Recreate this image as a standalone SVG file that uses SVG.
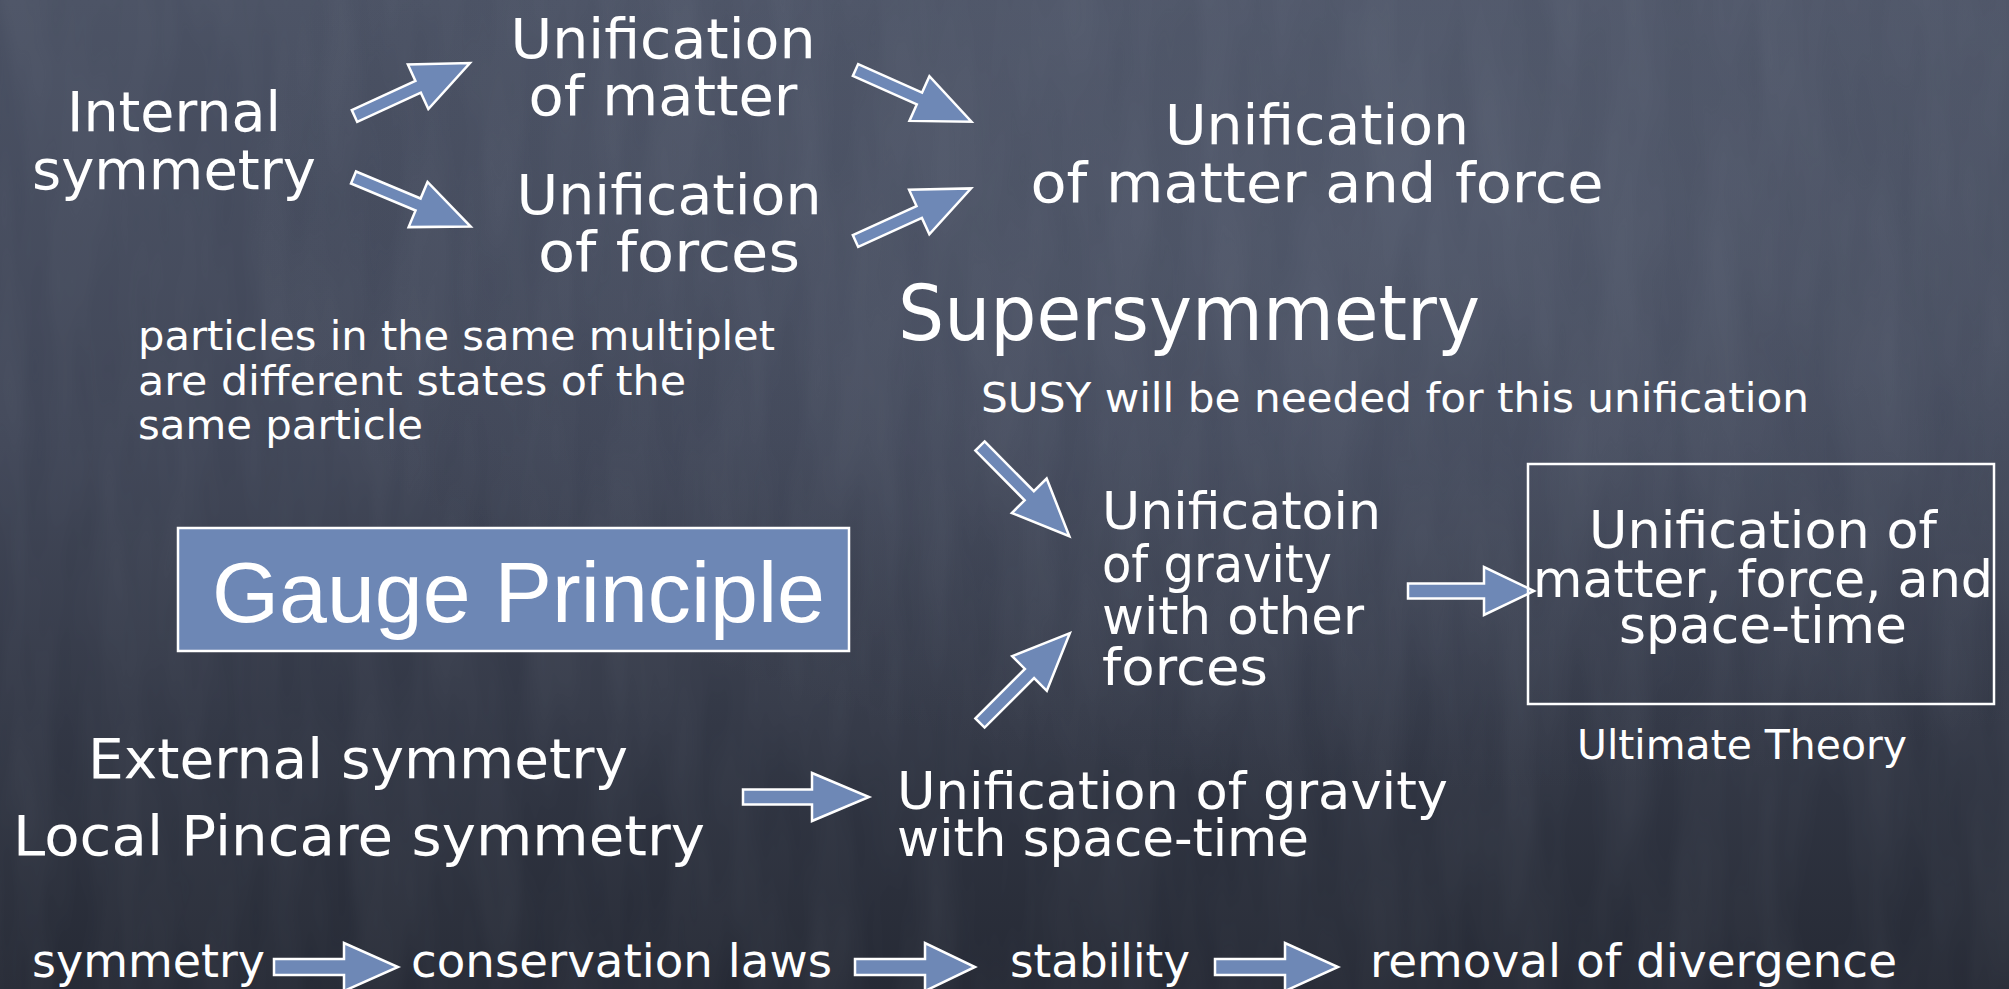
<svg xmlns="http://www.w3.org/2000/svg" width="2009" height="989" viewBox="0 0 2009 989">
<defs>
<linearGradient id="bg" x1="0" y1="0" x2="0" y2="1">
<stop offset="0" stop-color="#4a5163"/>
<stop offset="0.45" stop-color="#3f4556"/>
<stop offset="1" stop-color="#262a35"/>
</linearGradient>
<radialGradient id="hl" cx="0.72" cy="0.2" r="0.6">
<stop offset="0" stop-color="#5a6275" stop-opacity="0.55"/>
<stop offset="1" stop-color="#5a6275" stop-opacity="0"/>
</radialGradient>
<filter id="chalk" x="0" y="0" width="1" height="1">
<feTurbulence type="fractalNoise" baseFrequency="0.02 0.004" numOctaves="3" seed="7"/>
<feColorMatrix type="matrix" values="0 0 0 0 0.55  0 0 0 0 0.6  0 0 0 0 0.7  0 0 0 0.3 -0.07"/>
</filter>
<polygon id="diag" points="0,-6.5 70,-6.5 70,-24.5 127,0 70,24.5 70,6.5 0,6.5"/>
</defs>
<style>
.t{font-family:"DejaVu Sans","Liberation Sans",sans-serif;fill:#ffffff;}
.big{font-size:56px;}
.mid{font-size:52px;}
.sm{font-size:46px;}
.xs{font-size:41px;}
.ar{fill:#6e88b6;stroke:#ffffff;stroke-width:2.5;stroke-linejoin:miter;}
.box{fill:none;stroke:#ffffff;stroke-width:2.5;}
</style>
<rect width="2009" height="989" fill="url(#bg)"/>
<rect width="2009" height="989" fill="url(#hl)"/>
<rect width="2009" height="989" filter="url(#chalk)" opacity="0.35"/>

<g id="connectors">
<use href="#diag" class="ar" transform="translate(354.5,116) rotate(-24.65)"/>
<use href="#diag" class="ar" transform="translate(353.5,177.5) rotate(22.7)"/>
<use href="#diag" class="ar" transform="translate(855.5,70) rotate(24.05)"/>
<use href="#diag" class="ar" transform="translate(855.5,241) rotate(-24.46)"/>
<use href="#diag" class="ar" transform="translate(980,446) rotate(45.3)"/>
<use href="#diag" class="ar" transform="translate(980,723) rotate(-45)"/>
<polygon class="ar" points="1408,583.5 1484,583.5 1484,567 1534,591 1484,615 1484,598.5 1408,598.5"/>
<polygon class="ar" points="743,789.5 812,789.5 812,773 869,797 812,821 812,804.5 743,804.5"/>
<polygon class="ar" points="274,959 344,959 344,943 398,967 344,991 344,975 274,975"/>
<polygon class="ar" points="855,959 925,959 925,943 975,967 925,991 925,975 855,975"/>
<polygon class="ar" points="1215,959 1285,959 1285,943 1338,967 1285,991 1285,975 1215,975"/>
</g>

<g id="internal-symmetry">
<text class="t big" x="174" y="131" text-anchor="middle" textLength="214" lengthAdjust="spacingAndGlyphs">Internal</text>
<text class="t big" x="174" y="189" text-anchor="middle" textLength="284" lengthAdjust="spacingAndGlyphs">symmetry</text>
</g>

<g id="unification-matter">
<text class="t big" x="663" y="58" text-anchor="middle" textLength="305" lengthAdjust="spacingAndGlyphs">Unification</text>
<text class="t big" x="663" y="115" text-anchor="middle" textLength="269" lengthAdjust="spacingAndGlyphs">of matter</text>
</g>

<g id="unification-forces">
<text class="t big" x="669" y="214" text-anchor="middle" textLength="305" lengthAdjust="spacingAndGlyphs">Unification</text>
<text class="t big" x="669" y="271" text-anchor="middle" textLength="262" lengthAdjust="spacingAndGlyphs">of forces</text>
</g>

<g id="unification-matter-force">
<text class="t big" x="1317" y="144" text-anchor="middle" textLength="304" lengthAdjust="spacingAndGlyphs">Unification</text>
<text class="t big" x="1317" y="202" text-anchor="middle" textLength="573" lengthAdjust="spacingAndGlyphs">of matter and force</text>
</g>

<g id="supersymmetry">
<text class="t" style="font-size:76px" x="898" y="340" textLength="582" lengthAdjust="spacingAndGlyphs">Supersymmetry</text>
<text class="t" style="font-size:40px" x="981" y="412" textLength="828" lengthAdjust="spacingAndGlyphs">SUSY will be needed for this unification</text>
</g>

<g id="multiplet-note">
<text class="t" style="font-size:41px" x="138" y="350" textLength="637" lengthAdjust="spacingAndGlyphs">particles in the same multiplet</text>
<text class="t" style="font-size:41px" x="138" y="395" textLength="548" lengthAdjust="spacingAndGlyphs">are different states of the</text>
<text class="t" style="font-size:41px" x="138" y="439" textLength="285" lengthAdjust="spacingAndGlyphs">same particle</text>
</g>

<g id="gauge-principle">
<rect x="178" y="528" width="671" height="123" fill="#6d87b5" stroke="#ffffff" stroke-width="2.5"/>
<text x="212" y="622" style="font-family:'Liberation Sans',Arial,sans-serif;font-size:86px;fill:#ffffff" textLength="613" lengthAdjust="spacingAndGlyphs">Gauge Principle</text>
</g>

<g id="gravity-other-forces">
<text class="t mid" x="1102" y="529" textLength="279" lengthAdjust="spacingAndGlyphs">Unificatoin</text>
<text class="t mid" x="1102" y="582" textLength="230" lengthAdjust="spacingAndGlyphs">of gravity</text>
<text class="t mid" x="1102" y="634" textLength="262" lengthAdjust="spacingAndGlyphs">with other</text>
<text class="t mid" x="1102" y="685" textLength="166" lengthAdjust="spacingAndGlyphs">forces</text>
</g>

<g id="ultimate-theory">
<rect class="box" x="1528" y="464" width="466" height="240"/>
<text class="t mid" x="1763" y="548" text-anchor="middle" textLength="348" lengthAdjust="spacingAndGlyphs">Unification of</text>
<text class="t mid" x="1763" y="597" text-anchor="middle" textLength="460" lengthAdjust="spacingAndGlyphs">matter, force, and</text>
<text class="t mid" x="1763" y="643" text-anchor="middle" textLength="288" lengthAdjust="spacingAndGlyphs">space-time</text>
<text class="t xs" x="1742" y="759" text-anchor="middle" textLength="330" lengthAdjust="spacingAndGlyphs">Ultimate Theory</text>
</g>

<g id="external-symmetry">
<text class="t big" x="358" y="778" text-anchor="middle" textLength="540" lengthAdjust="spacingAndGlyphs">External symmetry</text>
<text class="t big" x="359" y="855" text-anchor="middle" textLength="692" lengthAdjust="spacingAndGlyphs">Local Pincare symmetry</text>
</g>

<g id="gravity-space-time">
<text class="t mid" x="897" y="809" textLength="551" lengthAdjust="spacingAndGlyphs">Unification of gravity</text>
<text class="t mid" x="897" y="856" textLength="412" lengthAdjust="spacingAndGlyphs">with space-time</text>
</g>

<g id="chain-symmetry"><text class="t sm" x="32" y="977" textLength="233" lengthAdjust="spacingAndGlyphs">symmetry</text></g>
<g id="chain-conservation"><text class="t sm" x="411" y="977" textLength="421" lengthAdjust="spacingAndGlyphs">conservation laws</text></g>
<g id="chain-stability"><text class="t sm" x="1010" y="977" textLength="180" lengthAdjust="spacingAndGlyphs">stability</text></g>
<g id="chain-divergence"><text class="t sm" x="1370" y="977" textLength="527" lengthAdjust="spacingAndGlyphs">removal of divergence</text></g>
</svg>
